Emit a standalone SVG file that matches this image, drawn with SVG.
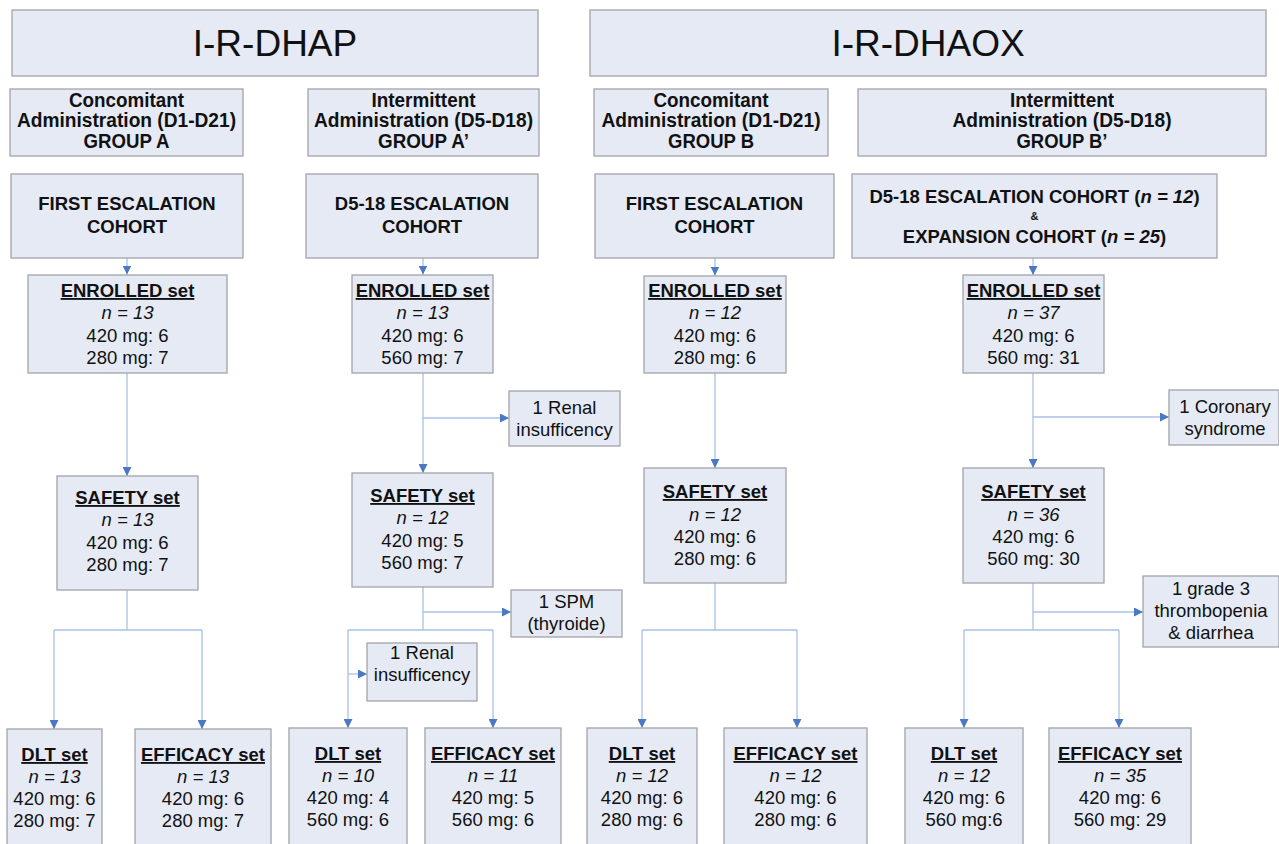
<svg xmlns="http://www.w3.org/2000/svg" width="1279" height="844" viewBox="0 0 1279 844">
<style>
.box{fill:#e5eaf5;stroke:#a3a4a9;stroke-width:1.3}
.c{fill:none;stroke:#a9c1e6;stroke-width:1.3}
text{font-family:"Liberation Sans",Arial,sans-serif;font-size:18.5px;fill:#111;text-anchor:middle}
.h{font-size:37px}
.g{font-size:20px;font-weight:bold}
.b{font-weight:bold}
.u{text-decoration:underline}
.i{font-style:italic}
.s{font-size:11px;font-weight:bold}
</style>
<defs>
<marker id="ar" markerUnits="userSpaceOnUse" markerWidth="9" markerHeight="9" refX="9" refY="4.5" orient="auto">
<path d="M0,0 L9,4.5 L0,9 z" fill="#4a78c2"/>
</marker>
</defs>
<rect width="1279" height="844" fill="#fff"/>

<g id="connectors">
<path class="c" d="M127,258 V274.5" marker-end="url(#ar)"/>
<path class="c" d="M127,373 V476" marker-end="url(#ar)"/>
<path class="c" d="M127,590 V630 M54,630 H202"/>
<path class="c" d="M54,630 V729" marker-end="url(#ar)"/>
<path class="c" d="M202,630 V729" marker-end="url(#ar)"/>

<path class="c" d="M423,258 V274.5" marker-end="url(#ar)"/>
<path class="c" d="M423,373 V473" marker-end="url(#ar)"/>
<path class="c" d="M423,418 H509" marker-end="url(#ar)"/>
<path class="c" d="M423,587 V630 M348,630 H493"/>
<path class="c" d="M423,612 H511" marker-end="url(#ar)"/>
<path class="c" d="M348,630 V728" marker-end="url(#ar)"/>
<path class="c" d="M348,674 H367" marker-end="url(#ar)"/>
<path class="c" d="M493,630 V728" marker-end="url(#ar)"/>

<path class="c" d="M715,258 V275.5" marker-end="url(#ar)"/>
<path class="c" d="M715,373 V468" marker-end="url(#ar)"/>
<path class="c" d="M715,583 V630 M642,630 H797"/>
<path class="c" d="M642,630 V728" marker-end="url(#ar)"/>
<path class="c" d="M797,630 V728" marker-end="url(#ar)"/>

<path class="c" d="M1033,258 V275" marker-end="url(#ar)"/>
<path class="c" d="M1033,373 V468" marker-end="url(#ar)"/>
<path class="c" d="M1033,417 H1169" marker-end="url(#ar)"/>
<path class="c" d="M1033,583 V630 M964,630 H1119"/>
<path class="c" d="M1033,612 H1143" marker-end="url(#ar)"/>
<path class="c" d="M964,630 V728" marker-end="url(#ar)"/>
<path class="c" d="M1119,630 V728" marker-end="url(#ar)"/>
</g>

<g id="hdr-dhap"><rect class="box" x="12" y="10" width="526" height="66"/><text class="h" x="275" y="56">I-R-DHAP</text></g>
<g id="hdr-dhaox"><rect class="box" x="590" y="10" width="676" height="66"/><text class="h" x="928" y="56">I-R-DHAOX</text></g>

<g id="grp-a"><rect class="box" x="10" y="89" width="233" height="67"/>
<text class="g" x="126.5" y="107" textLength="115" lengthAdjust="spacingAndGlyphs">Concomitant</text><text class="g" x="126.5" y="127" textLength="219" lengthAdjust="spacingAndGlyphs">Administration (D1-D21)</text><text class="g" x="126.5" y="148" textLength="86" lengthAdjust="spacingAndGlyphs">GROUP A</text></g>
<g id="grp-a2"><rect class="box" x="308" y="89" width="231" height="67"/>
<text class="g" x="423.5" y="107" textLength="104" lengthAdjust="spacingAndGlyphs">Intermittent</text><text class="g" x="423.5" y="127" textLength="219" lengthAdjust="spacingAndGlyphs">Administration (D5-D18)</text><text class="g" x="423.5" y="148" textLength="91" lengthAdjust="spacingAndGlyphs">GROUP A’</text></g>
<g id="grp-b"><rect class="box" x="594" y="89" width="234" height="67"/>
<text class="g" x="711" y="107" textLength="115" lengthAdjust="spacingAndGlyphs">Concomitant</text><text class="g" x="711" y="127" textLength="219" lengthAdjust="spacingAndGlyphs">Administration (D1-D21)</text><text class="g" x="711" y="148" textLength="86" lengthAdjust="spacingAndGlyphs">GROUP B</text></g>
<g id="grp-b2"><rect class="box" x="858" y="89" width="408" height="67"/>
<text class="g" x="1062" y="107" textLength="104" lengthAdjust="spacingAndGlyphs">Intermittent</text><text class="g" x="1062" y="127" textLength="219" lengthAdjust="spacingAndGlyphs">Administration (D5-D18)</text><text class="g" x="1062" y="148" textLength="91" lengthAdjust="spacingAndGlyphs">GROUP B’</text></g>

<g id="coh-a"><rect class="box" x="11" y="174" width="232" height="84"/>
<text class="b" x="127" y="210">FIRST ESCALATION</text><text class="b" x="127" y="233">COHORT</text></g>
<g id="coh-a2"><rect class="box" x="306" y="174" width="232" height="84"/>
<text class="b" x="422" y="210">D5-18 ESCALATION</text><text class="b" x="422" y="233">COHORT</text></g>
<g id="coh-b"><rect class="box" x="595" y="174" width="239" height="84"/>
<text class="b" x="714.5" y="210">FIRST ESCALATION</text><text class="b" x="714.5" y="233">COHORT</text></g>
<g id="coh-b2"><rect class="box" x="852" y="174" width="365" height="84"/>
<text class="b" x="1034.5" y="203">D5-18 ESCALATION COHORT (<tspan class="i">n = 12</tspan>)</text>
<text class="s" x="1034.5" y="220">&amp;</text>
<text class="b" x="1034.5" y="243">EXPANSION COHORT (<tspan class="i">n = 25</tspan>)</text></g>

<g id="enr-a"><rect class="box" x="28" y="275" width="199" height="98"/>
<text class="b u" x="127.5" y="297">ENROLLED set</text><text class="i" x="127.5" y="319">n = 13</text><text x="127.5" y="342">420 mg: 6</text><text x="127.5" y="364">280 mg: 7</text></g>
<g id="enr-a2"><rect class="box" x="352" y="275" width="141" height="98"/>
<text class="b u" x="422.5" y="297">ENROLLED set</text><text class="i" x="422.5" y="319">n = 13</text><text x="422.5" y="342">420 mg: 6</text><text x="422.5" y="364">560 mg: 7</text></g>
<g id="enr-b"><rect class="box" x="644" y="276" width="142" height="97"/>
<text class="b u" x="715" y="297">ENROLLED set</text><text class="i" x="715" y="319">n = 12</text><text x="715" y="342">420 mg: 6</text><text x="715" y="364">280 mg: 6</text></g>
<g id="enr-b2"><rect class="box" x="963" y="275" width="141" height="98"/>
<text class="b u" x="1033.5" y="297">ENROLLED set</text><text class="i" x="1033.5" y="319">n = 37</text><text x="1033.5" y="342">420 mg: 6</text><text x="1033.5" y="364">560 mg: 31</text></g>

<g id="note-renal1"><rect class="box" x="509" y="391" width="111" height="55"/>
<text x="564.5" y="414">1 Renal</text><text x="564.5" y="436">insufficency</text></g>
<g id="note-coronary"><rect class="box" x="1169" y="390" width="110" height="55"/>
<text x="1225" y="413">1 Coronary</text><text x="1225" y="435">syndrome</text></g>

<g id="saf-a"><rect class="box" x="57" y="476" width="141" height="114"/>
<text class="b u" x="127.5" y="504">SAFETY set</text><text class="i" x="127.5" y="526">n = 13</text><text x="127.5" y="549">420 mg: 6</text><text x="127.5" y="571">280 mg: 7</text></g>
<g id="saf-a2"><rect class="box" x="352" y="473" width="141" height="114"/>
<text class="b u" x="422.5" y="502">SAFETY set</text><text class="i" x="422.5" y="524">n = 12</text><text x="422.5" y="547">420 mg: 5</text><text x="422.5" y="569">560 mg: 7</text></g>
<g id="saf-b"><rect class="box" x="644" y="468" width="142" height="115"/>
<text class="b u" x="715" y="498">SAFETY set</text><text class="i" x="715" y="521">n = 12</text><text x="715" y="543">420 mg: 6</text><text x="715" y="565">280 mg: 6</text></g>
<g id="saf-b2"><rect class="box" x="963" y="468" width="141" height="115"/>
<text class="b u" x="1033.5" y="498">SAFETY set</text><text class="i" x="1033.5" y="521">n = 36</text><text x="1033.5" y="543">420 mg: 6</text><text x="1033.5" y="565">560 mg: 30</text></g>

<g id="note-spm"><rect class="box" x="511" y="590" width="111" height="47"/>
<text x="566.5" y="608">1 SPM</text><text x="566.5" y="630">(thyroide)</text></g>
<g id="note-renal2"><rect class="box" x="367" y="643" width="110" height="58"/>
<text x="422" y="659">1 Renal</text><text x="422" y="681">insufficency</text></g>
<g id="note-thromb"><rect class="box" x="1143" y="576" width="136" height="71"/>
<text x="1211" y="595">1 grade 3</text><text x="1211" y="617">thrombopenia</text><text x="1211" y="639">&amp; diarrhea</text></g>

<g id="dlt-a"><rect class="box" x="7" y="729" width="95" height="125"/>
<text class="b u" x="54.5" y="761">DLT set</text><text class="i" x="54.5" y="783">n = 13</text><text x="54.5" y="805">420 mg: 6</text><text x="54.5" y="827">280 mg: 7</text></g>
<g id="eff-a"><rect class="box" x="135" y="729" width="136" height="125"/>
<text class="b u" x="203" y="761">EFFICACY set</text><text class="i" x="203" y="783">n = 13</text><text x="203" y="805">420 mg: 6</text><text x="203" y="827">280 mg: 7</text></g>
<g id="dlt-a2"><rect class="box" x="289" y="728" width="118" height="126"/>
<text class="b u" x="348" y="760">DLT set</text><text class="i" x="348" y="782">n = 10</text><text x="348" y="804">420 mg: 4</text><text x="348" y="826">560 mg: 6</text></g>
<g id="eff-a2"><rect class="box" x="425" y="728" width="136" height="126"/>
<text class="b u" x="493" y="760">EFFICACY set</text><text class="i" x="493" y="782">n = 11</text><text x="493" y="804">420 mg: 5</text><text x="493" y="826">560 mg: 6</text></g>
<g id="dlt-b"><rect class="box" x="587" y="728" width="110" height="126"/>
<text class="b u" x="642" y="760">DLT set</text><text class="i" x="642" y="782">n = 12</text><text x="642" y="804">420 mg: 6</text><text x="642" y="826">280 mg: 6</text></g>
<g id="eff-b"><rect class="box" x="724" y="728" width="143" height="126"/>
<text class="b u" x="795.5" y="760">EFFICACY set</text><text class="i" x="795.5" y="782">n = 12</text><text x="795.5" y="804">420 mg: 6</text><text x="795.5" y="826">280 mg: 6</text></g>
<g id="dlt-b2"><rect class="box" x="905" y="728" width="118" height="126"/>
<text class="b u" x="964" y="760">DLT set</text><text class="i" x="964" y="782">n = 12</text><text x="964" y="804">420 mg: 6</text><text x="964" y="826">560 mg:6</text></g>
<g id="eff-b2"><rect class="box" x="1049" y="728" width="142" height="126"/>
<text class="b u" x="1120" y="760">EFFICACY set</text><text class="i" x="1120" y="782">n = 35</text><text x="1120" y="804">420 mg: 6</text><text x="1120" y="826">560 mg: 29</text></g>
</svg>
